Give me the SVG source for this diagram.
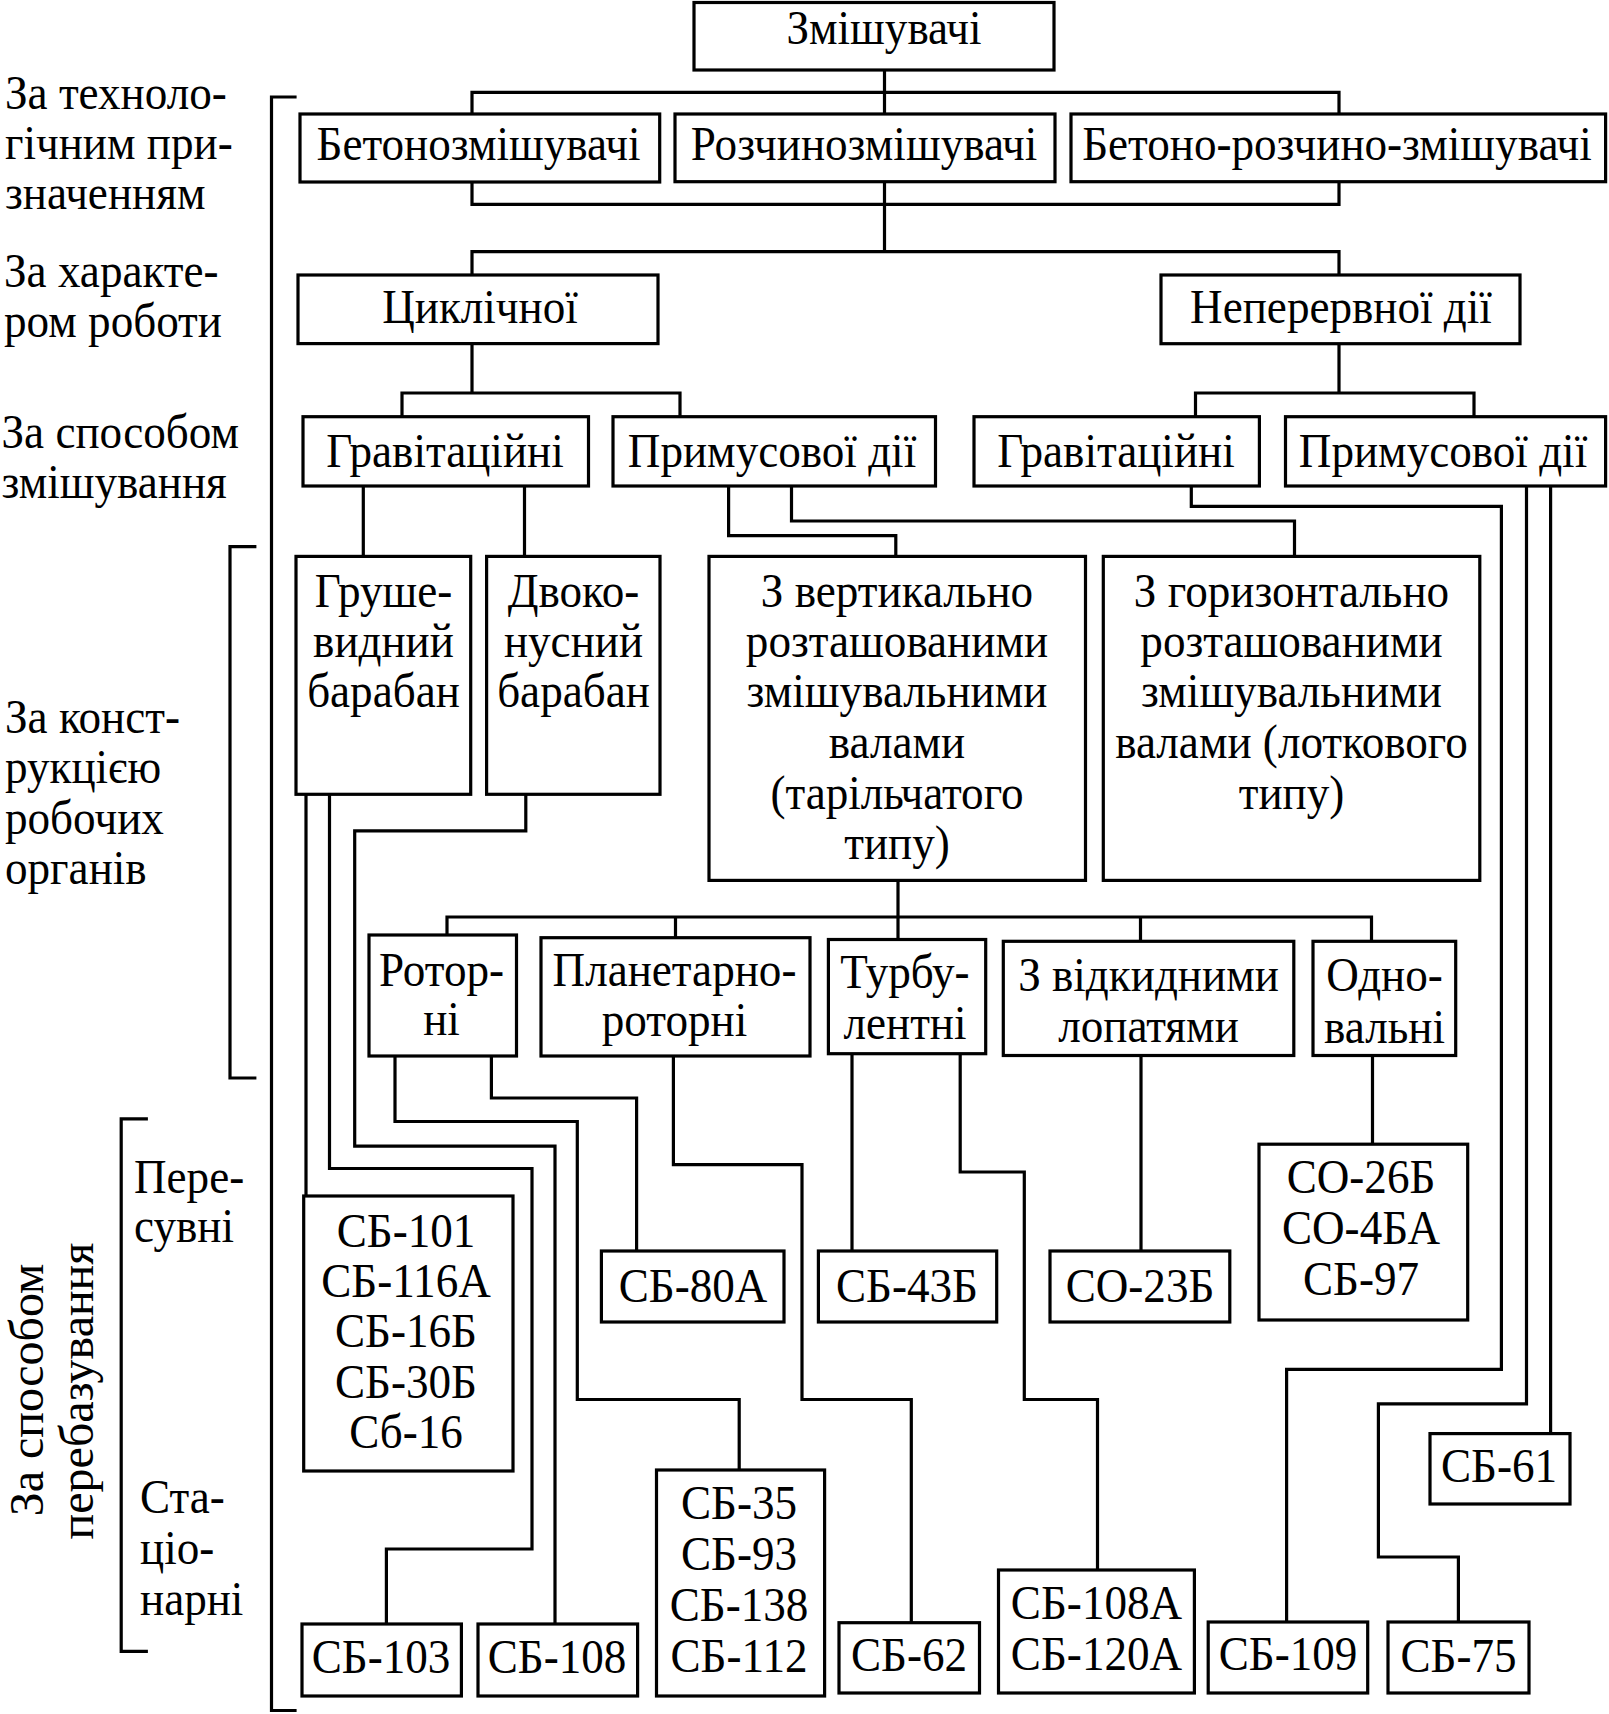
<svg xmlns="http://www.w3.org/2000/svg" width="1609" height="1714" viewBox="0 0 1609 1714">
<style>
.box{fill:#fff;stroke:#000;stroke-width:3.2}
.c{fill:none;stroke:#000;stroke-width:3.2;stroke-linejoin:miter;stroke-linecap:square}
text{font-family:"Liberation Serif","Times New Roman",serif;font-size:48px;fill:#000}
.t{text-anchor:middle;transform-box:fill-box;transform-origin:center;transform:scaleX(0.94)}
.l{text-anchor:start;transform-box:fill-box;transform-origin:left center;transform:scaleX(0.94)}
.r{text-anchor:middle}
</style>
<rect width="1609" height="1714" fill="#fff"/>
<g id="connectors">
<path class="c" d="M884.5,70 V114 M472,114 V92.3 H1339 V114"/>
<path class="c" d="M472,182 V204.3 H1339 V182 M884.5,182 V251.7 M472,275 V251.7 H1339 V275"/>
<path class="c" d="M472,343.6 V393 M402,416.7 V393 H680 V416.7"/>
<path class="c" d="M1339,343.7 V393 M1195.5,416.7 V393 H1474 V416.7"/>
<path class="c" d="M363.3,486 V556.4 M524.5,486 V556.4"/>
<path class="c" d="M728.6,486 V535.7 H895.8 V556.4 M791.5,486 V521 H1294.5 V556.4"/>
<path class="c" d="M1191.3,486 V506.4 H1501.4 V1369.4 H1286.6 V1622"/>
<path class="c" d="M1526.5,486 V1403.8 H1378.4 V1557 H1458.4 V1622 M1550.6,486 V1433.6"/>
<path class="c" d="M306,794.3 V1196 M329.5,794.3 V1168.5 H532 V1549 H386.4 V1624"/>
<path class="c" d="M525.8,794.3 V830.8 H354.7 V1146.2 H555 V1624"/>
<path class="c" d="M898,880.4 V939.5 M447,935 V917 H1371.5 V941.3 M675.5,917 V937.7 M1140.5,917 V941.3"/>
<path class="c" d="M395,1056 V1121.5 H577.3 V1399.5 H739.2 V1470 M491.4,1056 V1098 H636.6 V1251"/>
<path class="c" d="M673.4,1056 V1164.6 H802 V1399.5 H911.3 V1622.7"/>
<path class="c" d="M852,1053.7 V1251 M960.2,1053.7 V1172 H1024.3 V1399.5 H1097.5 V1570"/>
<path class="c" d="M1141,1055.5 V1251 M1372.5,1055.5 V1144.2"/>
<path class="c" d="M295,97 H271.5 V1710.5 H295"/>
<path class="c" d="M254.8,546.6 H230 V1078 H254.8"/>
<path class="c" d="M146.3,1118.8 H121.2 V1651.3 H146.3"/>
</g>
<g id="labels">
<text class="l" x="5" y="109">За техноло-</text>
<text class="l" x="5" y="159">гічним при-</text>
<text class="l" x="5" y="209">значенням</text>
<text class="l" x="4" y="287.5">За характе-</text>
<text class="l" x="4" y="337.5">ром роботи</text>
<text class="l" x="1.5" y="448">За способом</text>
<text class="l" x="1.5" y="498">змішування</text>
<text class="l" x="5" y="733">За конст-</text>
<text class="l" x="5" y="783.5">рукцією</text>
<text class="l" x="5" y="834">робочих</text>
<text class="l" x="5" y="884">органів</text>
<text class="l" x="134" y="1193">Пере-</text>
<text class="l" x="134" y="1242">сувні</text>
<text class="l" x="140" y="1513">Ста-</text>
<text class="l" x="140" y="1564">ціо-</text>
<text class="l" x="140" y="1615">нарні</text>
<g transform="translate(43,1390) rotate(-90)"><text class="r" x="0" y="0">За способом</text></g>
<g transform="translate(93,1391) rotate(-90)"><text class="r" x="0" y="0">перебазування</text></g>
</g>
<g id="n-zmishuvachi"><rect class="box" x="694" y="2.5" width="360" height="67.5"/><text class="t" x="884" y="44">Змішувачі</text></g>
<g id="n-betonozm"><rect class="box" x="300" y="114" width="359.7" height="68"/><text class="t" x="478.5" y="160">Бетонозмішувачі</text></g>
<g id="n-rozchynozm"><rect class="box" x="675" y="114" width="380" height="67.7"/><text class="t" x="864" y="160">Розчинозмішувачі</text></g>
<g id="n-betono-rozchyno"><rect class="box" x="1071" y="114" width="534.6" height="67.7"/><text class="t" x="1337" y="160">Бетоно-розчино-змішувачі</text></g>
<g id="n-tsyklichnoi"><rect class="box" x="298" y="275" width="360" height="68.6"/><text class="t" x="480" y="323.5">Циклічної</text></g>
<g id="n-neperervnoi"><rect class="box" x="1161" y="275" width="359" height="68.7"/><text class="t" x="1341" y="323.5">Неперервної дії</text></g>
<g id="n-grav1"><rect class="box" x="303" y="416.7" width="285.5" height="69.3"/><text class="t" x="445" y="467">Гравітаційні</text></g>
<g id="n-prym1"><rect class="box" x="613" y="416.7" width="322.5" height="69.3"/><text class="t" x="772" y="467">Примусової дії</text></g>
<g id="n-grav2"><rect class="box" x="974" y="416.7" width="285.4" height="69.3"/><text class="t" x="1116" y="467">Гравітаційні</text></g>
<g id="n-prym2"><rect class="box" x="1285.5" y="416.7" width="320.1" height="69.3"/><text class="t" x="1443" y="467">Примусової дії</text></g>
<g id="n-grushe"><rect class="box" x="296" y="556.4" width="174.7" height="237.9"/><text class="t"><tspan x="383.5" y="606.8">Груше-</tspan><tspan x="383.5" y="656.7">видний</tspan><tspan x="383.5" y="707">барабан</tspan></text></g>
<g id="n-dvokonus"><rect class="box" x="486.6" y="556.4" width="173.4" height="237.9"/><text class="t"><tspan x="573.5" y="606.8">Двоко-</tspan><tspan x="573.5" y="656.7">нусний</tspan><tspan x="573.5" y="707">барабан</tspan></text></g>
<g id="n-vertyk"><rect class="box" x="709" y="556.4" width="376.5" height="324"/><text class="t"><tspan x="897" y="606.8">З вертикально</tspan><tspan x="897" y="656.7">розташованими</tspan><tspan x="897" y="707">змішувальними</tspan><tspan x="897" y="757.8">валами</tspan><tspan x="897" y="809">(тарільчатого</tspan><tspan x="897" y="859">типу)</tspan></text></g>
<g id="n-horyz"><rect class="box" x="1103.3" y="556.4" width="376.5" height="324"/><text class="t"><tspan x="1291.5" y="606.8">З горизонтально</tspan><tspan x="1291.5" y="656.7">розташованими</tspan><tspan x="1291.5" y="707">змішувальними</tspan><tspan x="1291.5" y="757.8">валами (лоткового</tspan><tspan x="1291.5" y="809">типу)</tspan></text></g>
<g id="n-rotorni"><rect class="box" x="369" y="935" width="147.5" height="121"/><text class="t"><tspan x="441.5" y="985.8">Ротор-</tspan><tspan x="441.5" y="1035.5">ні</tspan></text></g>
<g id="n-planetarno"><rect class="box" x="541" y="937.7" width="269" height="118.3"/><text class="t"><tspan x="674.5" y="985.8">Планетарно-</tspan><tspan x="674.5" y="1036">роторні</tspan></text></g>
<g id="n-turbu"><rect class="box" x="828.4" y="939.5" width="157.3" height="114.2"/><text class="t"><tspan x="905" y="988">Турбу-</tspan><tspan x="905" y="1039">лентні</tspan></text></g>
<g id="n-vidkydni"><rect class="box" x="1003.3" y="941.3" width="290.5" height="114.2"/><text class="t"><tspan x="1148.5" y="990.6">З відкидними</tspan><tspan x="1148.5" y="1041.6">лопатями</tspan></text></g>
<g id="n-odnovalni"><rect class="box" x="1313" y="941.3" width="142.7" height="114.2"/><text class="t"><tspan x="1384.5" y="990.6">Одно-</tspan><tspan x="1384.5" y="1042.7">вальні</tspan></text></g>
<g id="n-sb101"><rect class="box" x="303.7" y="1196" width="209.3" height="275"/><text class="t"><tspan x="406" y="1246.8">СБ-101</tspan><tspan x="406" y="1297">СБ-116А</tspan><tspan x="406" y="1347.5">СБ-16Б</tspan><tspan x="406" y="1397.6">СБ-30Б</tspan><tspan x="406" y="1447.7">Сб-16</tspan></text></g>
<g id="n-sb80a"><rect class="box" x="601.4" y="1251" width="182.6" height="71"/><text class="t" x="693" y="1301.6">СБ-80А</text></g>
<g id="n-sb43b"><rect class="box" x="818.4" y="1251" width="178.3" height="71"/><text class="t" x="907" y="1301.6">СБ-43Б</text></g>
<g id="n-so23b"><rect class="box" x="1050" y="1251" width="179.8" height="71"/><text class="t" x="1140" y="1301.6">СО-23Б</text></g>
<g id="n-so26b"><rect class="box" x="1259" y="1144.2" width="208.7" height="175.8"/><text class="t"><tspan x="1361" y="1193">СО-26Б</tspan><tspan x="1361" y="1244">СО-4БА</tspan><tspan x="1361" y="1294.6">СБ-97</tspan></text></g>
<g id="n-sb35"><rect class="box" x="656.5" y="1470" width="168.1" height="226"/><text class="t"><tspan x="739" y="1519">СБ-35</tspan><tspan x="739" y="1570">СБ-93</tspan><tspan x="739" y="1620.7">СБ-138</tspan><tspan x="739" y="1671.7">СБ-112</tspan></text></g>
<g id="n-sb108a"><rect class="box" x="998.5" y="1570" width="195.9" height="123"/><text class="t"><tspan x="1096.5" y="1618.8">СБ-108А</tspan><tspan x="1096.5" y="1669.7">СБ-120А</tspan></text></g>
<g id="n-sb61"><rect class="box" x="1430" y="1433.6" width="140" height="70.4"/><text class="t" x="1499" y="1481.7">СБ-61</text></g>
<g id="n-sb103"><rect class="box" x="302" y="1624" width="159.4" height="72"/><text class="t" x="381" y="1673">СБ-103</text></g>
<g id="n-sb108"><rect class="box" x="478" y="1624" width="159.6" height="72"/><text class="t" x="557" y="1673">СБ-108</text></g>
<g id="n-sb62"><rect class="box" x="839" y="1622.7" width="140.5" height="70.3"/><text class="t" x="909" y="1671">СБ-62</text></g>
<g id="n-sb109"><rect class="box" x="1208.2" y="1622" width="159.5" height="71"/><text class="t" x="1288" y="1670">СБ-109</text></g>
<g id="n-sb75"><rect class="box" x="1388" y="1622" width="141" height="71"/><text class="t" x="1458.5" y="1672">СБ-75</text></g>
</svg>
